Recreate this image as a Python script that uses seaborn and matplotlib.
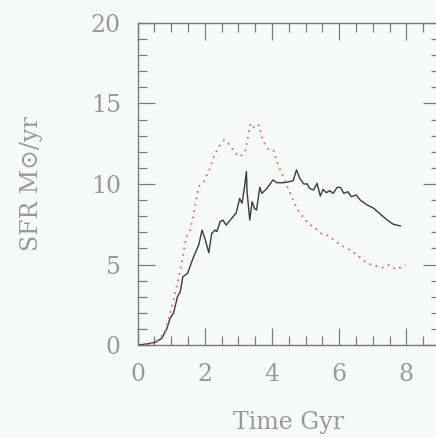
import numpy as np
import pandas as pd
import matplotlib
matplotlib.use("Agg")
import matplotlib.pyplot as plt
import seaborn as sns
from matplotlib.ticker import MultipleLocator

# Solid (black) SFR curve
t_solid = [0.0, 0.28, 0.53, 0.72, 0.87, 0.97, 1.07, 1.19, 1.27, 1.35, 1.49, 1.67, 1.82, 1.92,
           2.02, 2.12, 2.21, 2.31, 2.36, 2.46, 2.54, 2.64, 2.76, 2.94, 3.04, 3.11, 3.18, 3.24,
           3.26, 3.34, 3.41, 3.48, 3.54, 3.64, 3.70, 3.85, 4.03, 4.15, 4.35, 4.50, 4.63, 4.73,
           4.83, 4.95, 5.05, 5.12, 5.24, 5.34, 5.44, 5.52, 5.62, 5.72, 5.82, 5.94, 6.04, 6.14,
           6.26, 6.36, 6.51, 6.63, 6.83, 7.03, 7.23, 7.43, 7.61, 7.83]
sfr_solid = [0.0, 0.06, 0.17, 0.41, 1.0, 1.66, 1.97, 3.0, 3.3, 4.24, 4.45, 5.49, 6.2, 7.14,
             6.52, 5.73, 6.94, 7.14, 7.04, 7.66, 7.76, 7.45, 7.76, 8.22, 9.1, 8.8, 9.73, 10.77,
             9.52, 7.76, 8.9, 8.49, 8.38, 9.79, 9.42, 9.73, 10.25, 10.08, 10.08, 10.14, 10.2, 10.87,
             10.35, 10.0, 10.0, 9.73, 9.63, 10.04, 9.25, 9.67, 9.46, 9.59, 9.42, 9.79, 9.79, 9.42,
             9.52, 9.21, 9.32, 9.0, 8.7, 8.49, 8.12, 7.76, 7.5, 7.39]

# Dotted (red) SFR curve
t_dotted = [0.0, 0.38, 0.63, 0.82, 0.92, 1.02, 1.12, 1.22, 1.32, 1.45, 1.57, 1.69, 1.82, 1.97,
            2.12, 2.27, 2.42, 2.58, 2.66, 2.81, 2.96, 3.06, 3.20, 3.28, 3.36, 3.48, 3.60, 3.70,
            3.80, 3.90, 4.05, 4.20, 4.35, 4.50, 4.65, 4.80, 4.95, 5.10, 5.24, 5.44, 5.64, 5.84,
            6.04, 6.24, 6.44, 6.63, 6.83, 7.03, 7.28, 7.48, 7.68, 7.83, 7.97]
sfr_dotted = [0.0, 0.1, 0.31, 0.83, 1.55, 2.38, 3.2, 4.14, 5.18, 6.73, 7.14, 8.38, 9.83, 10.14,
              10.77, 11.7, 12.32, 12.73, 12.63, 12.22, 11.8, 11.7, 12.0, 12.84, 13.77, 13.46, 13.66, 12.94,
              12.42, 12.11, 12.07, 11.08, 10.35, 9.63, 8.9, 8.28, 7.87, 7.5, 7.35, 6.94, 6.83, 6.52,
              6.21, 6.0, 5.73, 5.42, 5.07, 4.95, 4.8, 4.97, 4.7, 4.82, 4.97]

x_ticks = [0, 2, 4, 6, 8]
y_ticks = [0, 5, 10, 15, 20]

sns.set_style("ticks")
plt.rcParams['font.family'] = ['DejaVu Serif']

bg = "#f7fbf8"
txt = "#999999"
axc = "#7a7a7a"

fig = plt.figure(figsize=(4.36, 4.38), dpi=100, facecolor=bg)
ax = fig.add_axes([137.5/436, (438-345)/438, (440-137.5)/436, (345-23)/438])
ax.set_facecolor(bg)

df_s = pd.DataFrame({"t": t_solid, "sfr": sfr_solid})
df_d = pd.DataFrame({"t": t_dotted, "sfr": sfr_dotted})
sns.lineplot(data=df_s, x="t", y="sfr", ax=ax, color="#3a3a3a", linewidth=1.0, sort=False)
sns.lineplot(data=df_d, x="t", y="sfr", ax=ax, color="#ff6060", linewidth=1.3,
             linestyle=(0, (1, 2.6)), sort=False)

ax.set_xlim(0, 9)
ax.set_ylim(0, 20)
ax.set_xticks(x_ticks)
ax.set_yticks(y_ticks)
ax.xaxis.set_minor_locator(MultipleLocator(0.5))
ax.yaxis.set_minor_locator(MultipleLocator(1))
ax.tick_params(which="both", direction="in", top=True, right=True, color=axc, width=0.9)
ax.tick_params(which="major", length=12, pad=13, labelsize=17, labelcolor=txt)
ax.tick_params(which="minor", length=6.5)
ax.tick_params(axis="y", which="major", pad=12)
for s in ax.spines.values():
    s.set_color(axc)
    s.set_linewidth(1.0)

ax.set_xlabel("Time Gyr", fontsize=17, color=txt, labelpad=18)
ax.set_ylabel("SFR M\u2299/yr", fontsize=17, color=txt, labelpad=34)

fig.savefig("out.png", dpi=100, facecolor=bg)
